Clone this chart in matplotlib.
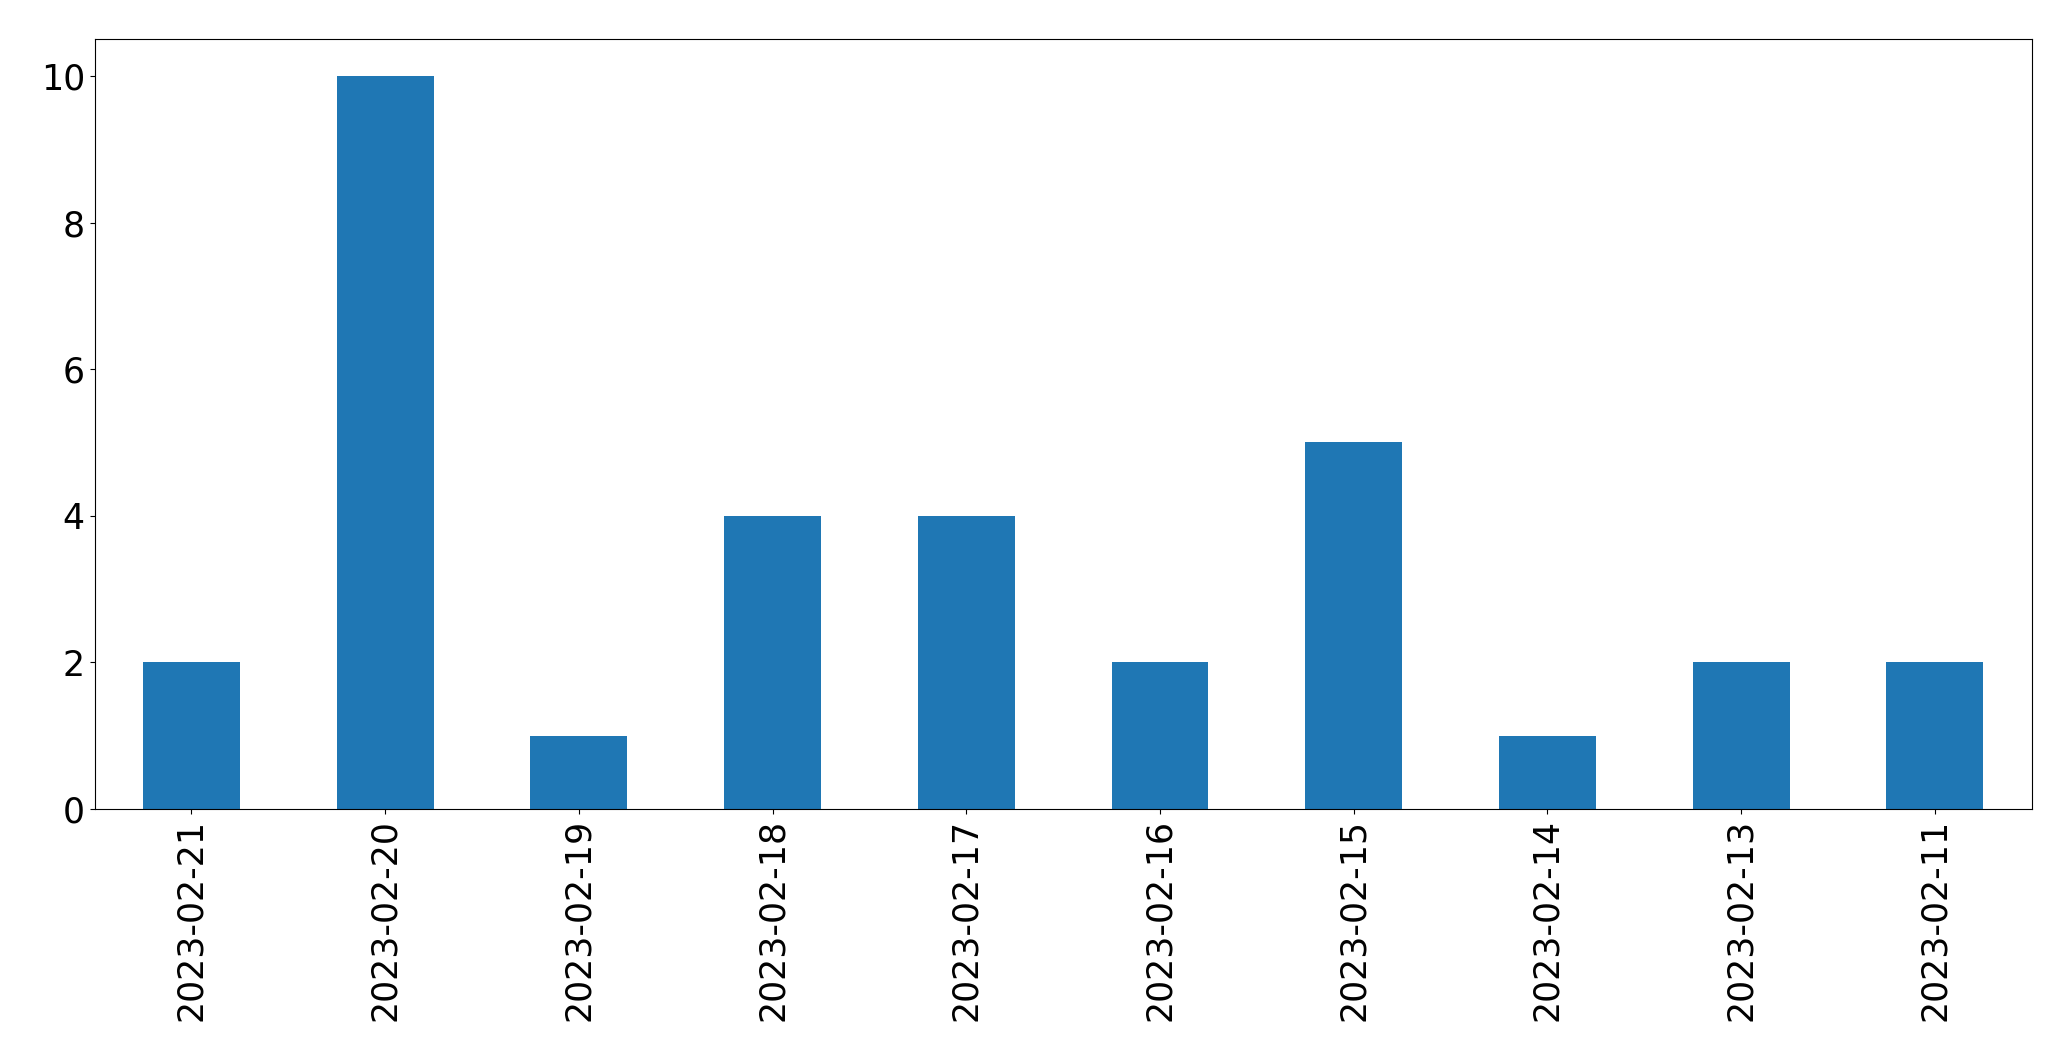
import matplotlib
matplotlib.use("Agg")
from matplotlib import pyplot as plt
import numpy as np

# data
fechas = ["2023-02-21", "2023-02-20", "2023-02-19", "2023-02-18", "2023-02-17",
          "2023-02-16", "2023-02-15", "2023-02-14", "2023-02-13", "2023-02-11"]
conteo = [2, 10, 1, 4, 4, 2, 5, 1, 2, 2]

fig, ax = plt.subplots(figsize=(20.71, 10.61), dpi=100)
x = np.arange(len(fechas))
ax.bar(x, conteo, width=0.5, color="#1f77b4")
ax.set_xlim(-0.5, len(fechas) - 0.5)
ax.set_ylim(0, 10.5)
ax.set_xticks(x)
ax.set_xticklabels(fechas, rotation=90)
ax.tick_params(labelsize=25)

plt.subplots_adjust(left=0.0457, right=0.981, top=0.963, bottom=0.2375)
plt.savefig("out.png", dpi=100)
